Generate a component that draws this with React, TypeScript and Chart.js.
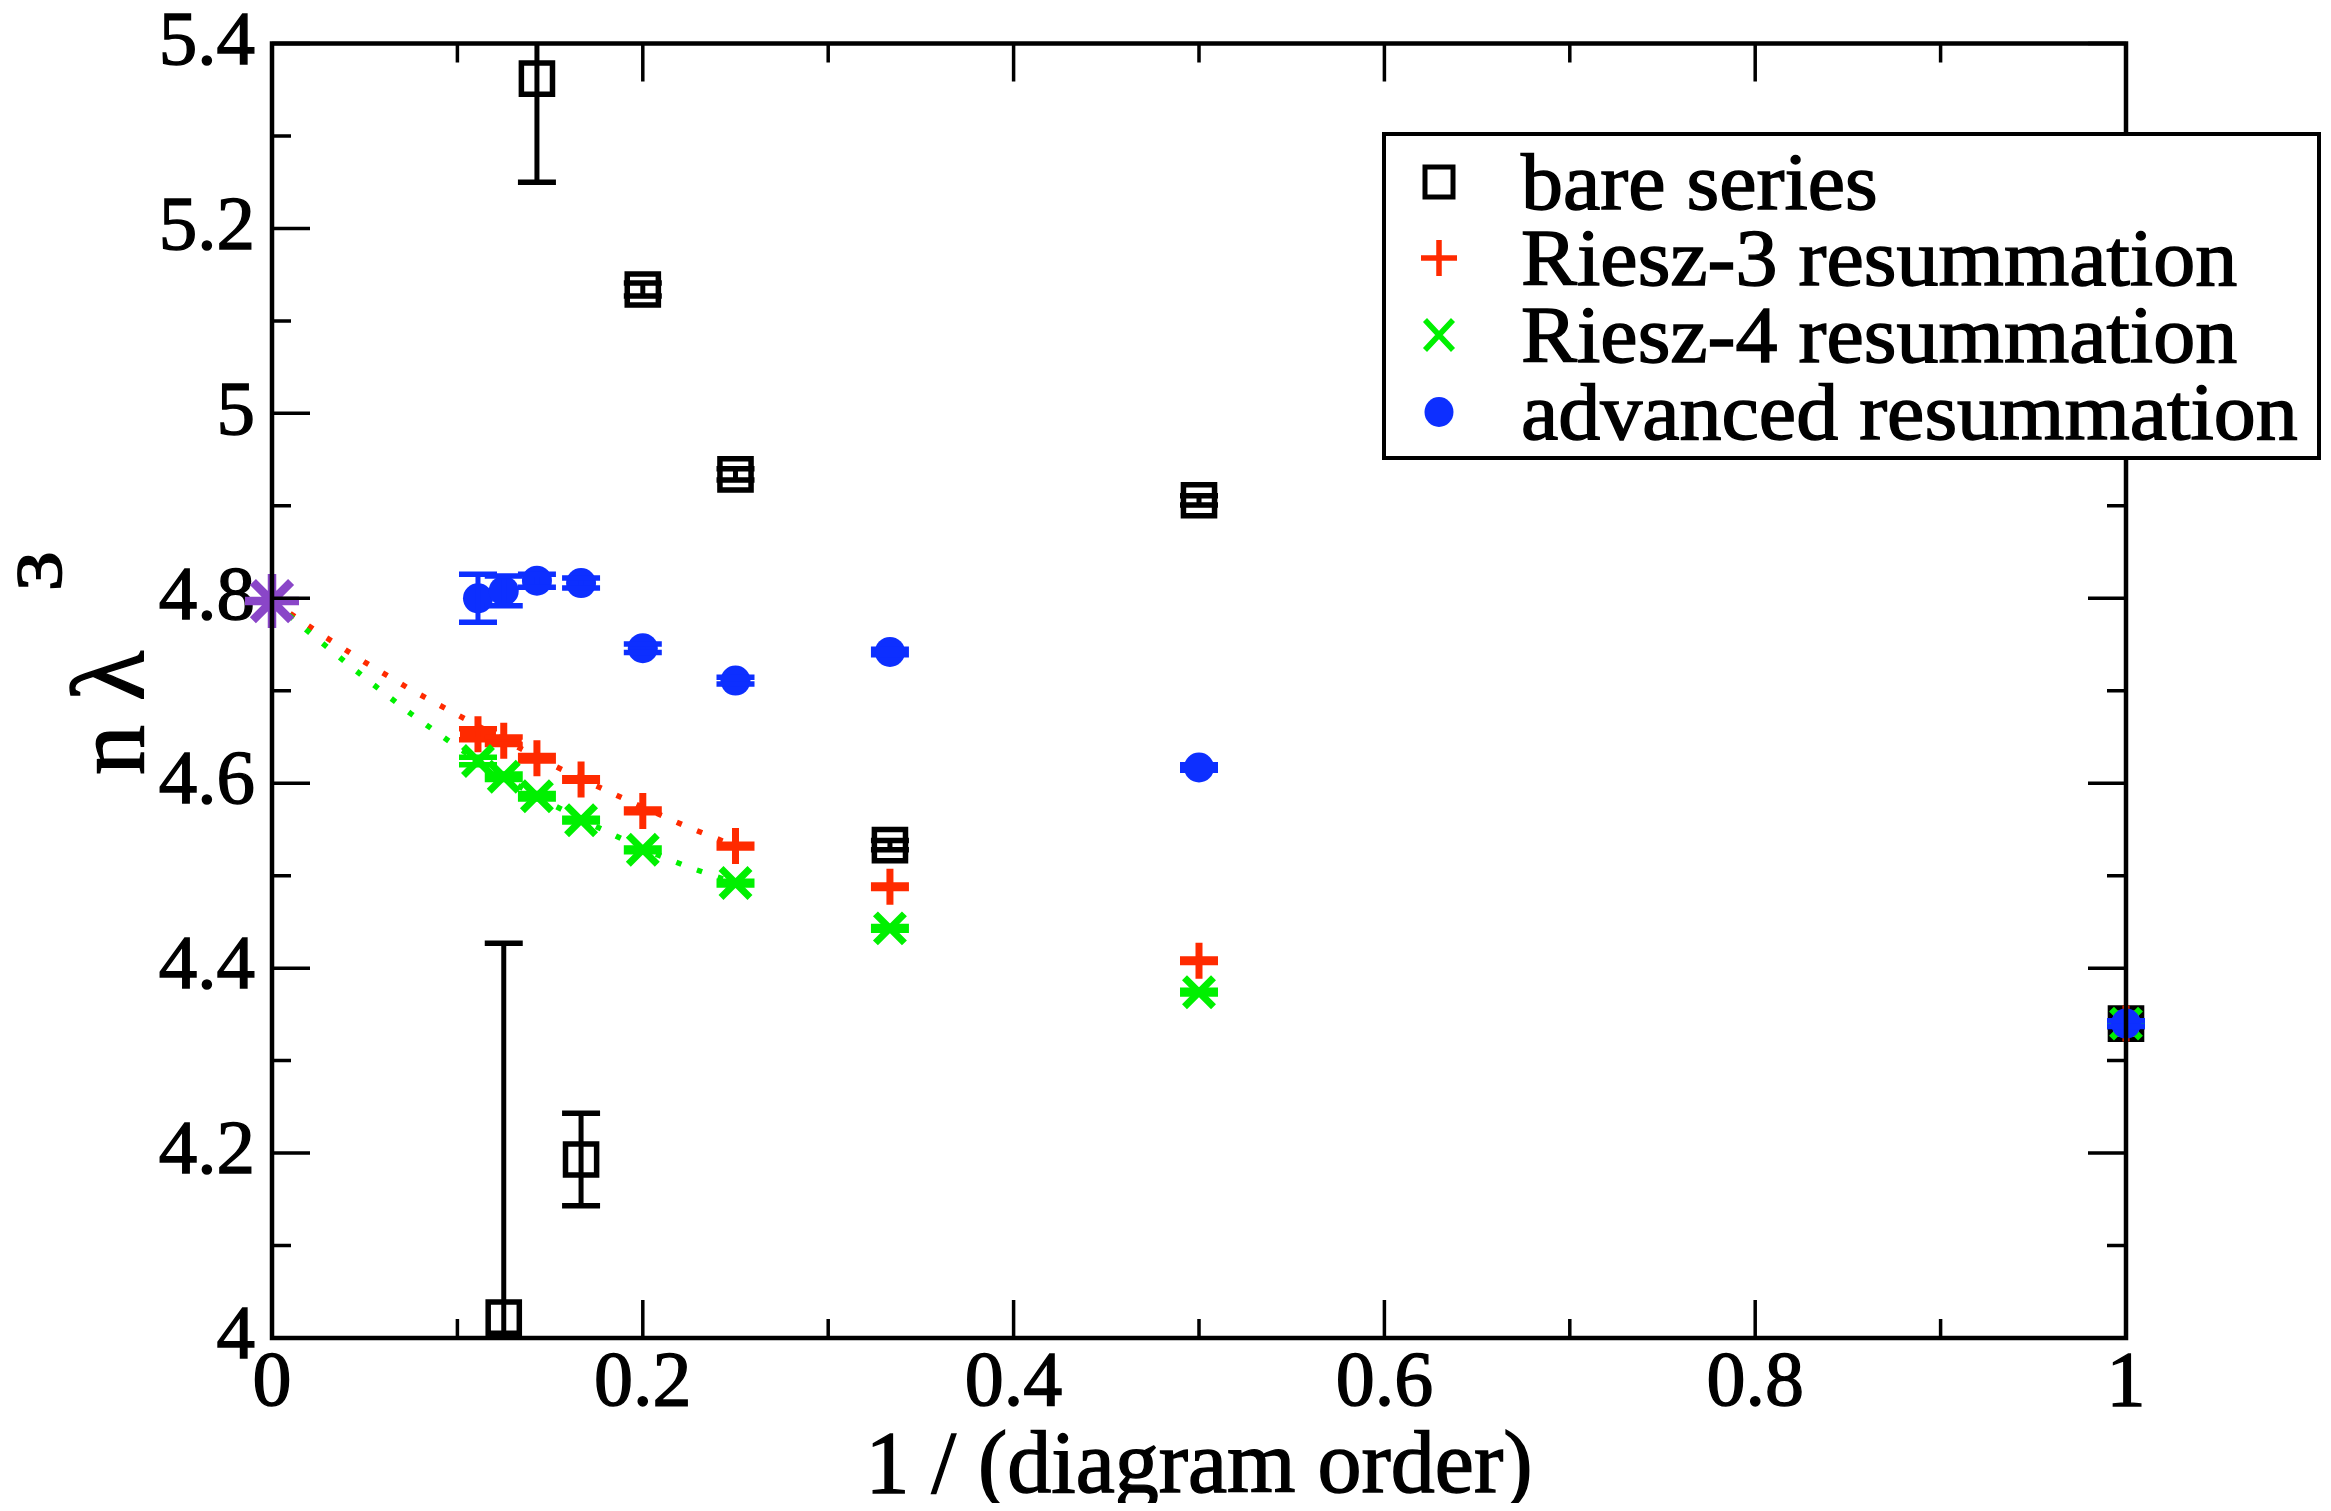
import React, { useEffect, useRef } from 'react';
import { Chart, registerables } from 'chart.js';

Chart.register(...registerables);

const FONT = '"Liberation Serif", "Times New Roman", serif';

// ---- data ----
const ORDER_X = [0.1111, 0.125, 0.1429, 0.1667, 0.2, 0.25, 0.3333, 0.5, 1];

const BARE_X = [0.125, 0.1429, 0.1667, 0.2, 0.25, 0.3333, 0.5, 1];
const BARE_Y = [4.022, 5.362, 4.193, 5.134, 4.934, 4.533, 4.906, 4.34];
const BARE_ERR = [0.405, 0.112, 0.05, 0.007, 0.006, 0.005, 0.005, 0.003];

const RIESZ3_Y = [4.653, 4.646, 4.627, 4.604, 4.57, 4.532, 4.488, 4.408, 4.34];
const RIESZ3_ERR = [0.006, 0.004, 0.003, 0.002, 0.002, 0.002, 0.002, 0.002, 0.002];

const RIESZ4_Y = [4.624, 4.607, 4.586, 4.56, 4.528, 4.492, 4.443, 4.374, 4.34];
const RIESZ4_ERR = [0.004, 0.003, 0.003, 0.002, 0.002, 0.002, 0.002, 0.002, 0.002];

const ADV_Y = [4.8, 4.808, 4.819, 4.8165, 4.746, 4.711, 4.742, 4.617, 4.34];
const ADV_ERR = [0.026, 0.016, 0.007, 0.0055, 0.0045, 0.0036, 0.003, 0.003, 0.003];

const EXTRAP_X = [0];
const EXTRAP_Y = [4.797];

const FIT_X = [0, 0.025, 0.05, 0.075, 0.1, 0.125, 0.15, 0.175, 0.2, 0.225, 0.25];
const FIT3_Y = [4.797, 4.763, 4.731, 4.701, 4.674, 4.647, 4.621, 4.597, 4.574, 4.552, 4.532];
const FIT4_Y = [4.797, 4.755, 4.714, 4.675, 4.639, 4.606, 4.578, 4.553, 4.529, 4.509, 4.492];

const X_MAJOR = [0, 0.2, 0.4, 0.6, 0.8, 1];
const X_MINOR = [0.1, 0.3, 0.5, 0.7, 0.9];
const Y_MAJOR = [4, 4.2, 4.4, 4.6, 4.8, 5, 5.2, 5.4];
const Y_MINOR = [4.1, 4.3, 4.5, 4.7, 4.9, 5.1, 5.3];

const LEGEND_LABELS = ['bare series', 'Riesz-3 resummation', 'Riesz-4 resummation', 'advanced resummation'];
const X_TITLE = '1 / (diagram order)';

const BLACK = '#000000';
const RED = '#ff2a00';
const GREEN = '#00f000';
const BLUE = '#0d2fff';
const PURPLE = '#8a46c8';

const pts = (xs: number[], ys: number[]) => xs.map((x, i) => ({ x, y: ys[i] }));

const boldText = (ctx: CanvasRenderingContext2D, t: string, x: number, y: number) => {
  ctx.fillText(t, x, y);
  ctx.strokeText(t, x, y);
};

const errorBarPlugin = {
  id: 'errorBars',
  afterDatasetDraw(chart: any, args: any) {
    const ds = chart.data.datasets[args.index];
    if (!ds.errors) return;
    const { ctx, chartArea, scales } = chart;
    ctx.save();
    ctx.beginPath();
    ctx.rect(chartArea.left - 40, chartArea.top, chartArea.right - chartArea.left + 80, chartArea.bottom - chartArea.top);
    ctx.clip();
    ctx.strokeStyle = ds.errColor || ds.borderColor;
    ctx.lineCap = 'butt';
    ds.data.forEach((p: any, i: number) => {
      const e = ds.errors[i];
      const px = scales.x.getPixelForValue(p.x);
      const yHi = scales.y.getPixelForValue(p.y + e);
      const yLo = scales.y.getPixelForValue(p.y - e);
      ctx.lineWidth = 5;
      ctx.beginPath();
      ctx.moveTo(px, yHi);
      ctx.lineTo(px, yLo);
      ctx.stroke();
      ctx.lineWidth = 5.5;
      ctx.beginPath();
      ctx.moveTo(px - 19, yHi);
      ctx.lineTo(px + 19, yHi);
      ctx.moveTo(px - 19, yLo);
      ctx.lineTo(px + 19, yLo);
      ctx.stroke();
    });
    ctx.restore();
  },
};

const framePlugin = {
  id: 'frameTicks',
  afterDatasetsDraw(chart: any) {
    const { ctx, chartArea: a, scales } = chart;
    ctx.save();
    ctx.strokeStyle = '#000';
    ctx.lineCap = 'butt';
    ctx.lineWidth = 3.5;
    const xt = (vals: number[], len: number) => {
      vals.forEach((v) => {
        const px = scales.x.getPixelForValue(v);
        ctx.beginPath();
        ctx.moveTo(px, a.bottom);
        ctx.lineTo(px, a.bottom - len);
        ctx.moveTo(px, a.top);
        ctx.lineTo(px, a.top + len);
        ctx.stroke();
      });
    };
    const yt = (vals: number[], len: number) => {
      vals.forEach((v) => {
        const py = scales.y.getPixelForValue(v);
        ctx.beginPath();
        ctx.moveTo(a.left, py);
        ctx.lineTo(a.left + len, py);
        ctx.moveTo(a.right, py);
        ctx.lineTo(a.right - len, py);
        ctx.stroke();
      });
    };
    xt(X_MAJOR, 38);
    xt(X_MINOR, 19);
    yt(Y_MAJOR, 38);
    yt(Y_MINOR, 19);
    ctx.lineWidth = 4.5;
    ctx.strokeRect(a.left, a.top, a.right - a.left, a.bottom - a.top);
    ctx.restore();
  },
};

const annotationPlugin = {
  id: 'titlesLegend',
  afterDraw(chart: any) {
    const { ctx, chartArea: a } = chart;
    ctx.save();
    ctx.fillStyle = '#000';
    ctx.strokeStyle = '#000';
    ctx.lineWidth = 1.4;
    // x title
    ctx.font = `88px ${FONT}`;
    ctx.textAlign = 'center';
    ctx.textBaseline = 'alphabetic';
    boldText(ctx, X_TITLE, (a.left + a.right) / 2, 1484);
    // y title (rotated)
    ctx.save();
    ctx.translate(135, 767);
    ctx.rotate(-Math.PI / 2);
    ctx.textAlign = 'left';
    ctx.font = `100px ${FONT}`;
    boldText(ctx, 'n', 0, 0);
    ctx.font = `104px ${FONT}`;
    boldText(ctx, '\u03bb', 74, 0);
    ctx.translate(184, -82);
    ctx.scale(1.2, 1);
    ctx.font = `66px ${FONT}`;
    ctx.lineWidth = 1.8;
    boldText(ctx, '3', 0, 0);
    ctx.restore();

    // legend
    const bx = 1376, by = 126, bw = 935, bh = 324;
    ctx.fillStyle = '#fff';
    ctx.fillRect(bx, by, bw, bh);
    ctx.strokeStyle = '#000';
    ctx.lineWidth = 4;
    ctx.strokeRect(bx, by, bw, bh);
    const rows = [174, 250, 327, 404];
    const sx = 1431;
    LEGEND_LABELS.forEach((label, i) => {
      const cy = rows[i];
      ctx.save();
      if (i === 0) {
        ctx.strokeStyle = BLACK;
        ctx.lineWidth = 5;
        ctx.strokeRect(sx - 14, cy - 15, 28, 30);
      } else if (i === 1) {
        ctx.strokeStyle = RED;
        ctx.lineWidth = 5.5;
        ctx.beginPath();
        ctx.moveTo(sx - 18, cy);
        ctx.lineTo(sx + 18, cy);
        ctx.moveTo(sx, cy - 18);
        ctx.lineTo(sx, cy + 18);
        ctx.stroke();
      } else if (i === 2) {
        ctx.strokeStyle = GREEN;
        ctx.lineWidth = 5.5;
        ctx.beginPath();
        ctx.moveTo(sx - 14, cy - 15);
        ctx.lineTo(sx + 14, cy + 15);
        ctx.moveTo(sx + 14, cy - 15);
        ctx.lineTo(sx - 14, cy + 15);
        ctx.stroke();
      } else {
        ctx.fillStyle = BLUE;
        ctx.beginPath();
        ctx.ellipse(sx, cy, 14.5, 15, 0, 0, Math.PI * 2);
        ctx.fill();
      }
      ctx.restore();
      ctx.save();
      ctx.fillStyle = '#000';
      ctx.strokeStyle = '#000';
      ctx.lineWidth = 1.4;
      ctx.font = `80px ${FONT}`;
      ctx.textAlign = 'left';
      ctx.textBaseline = 'alphabetic';
      ctx.translate(1513, cy + 27);
      ctx.scale(1.05, 1);
      boldText(ctx, label, 0, 0);
      ctx.restore();
    });
    ctx.restore();
  },
};

export default function App() {
  const ref = useRef<HTMLCanvasElement>(null);
  useEffect(() => {
    const zeroPad = (s: any) => {
      s.paddingTop = 0;
      s.paddingBottom = 0;
      s.paddingLeft = 0;
      s.paddingRight = 0;
    };
    const chart = new Chart(ref.current as HTMLCanvasElement, {
      type: 'scatter',
      data: {
        datasets: [
          {
            label: 'Riesz-3 fit',
            data: pts(FIT_X, FIT3_Y),
            showLine: true,
            pointRadius: 0,
            borderColor: RED,
            borderWidth: 5.5,
            borderDash: [5.5, 16.5],
            fill: false,
            order: 10,
          } as any,
          {
            label: 'Riesz-4 fit',
            data: pts(FIT_X, FIT4_Y),
            showLine: true,
            pointRadius: 0,
            borderColor: GREEN,
            borderWidth: 5.5,
            borderDash: [5.5, 16.5],
            fill: false,
            order: 9,
          },
          {
            label: LEGEND_LABELS[0],
            data: pts(BARE_X, BARE_Y),
            errors: BARE_ERR,
            errColor: BLACK,
            pointStyle: 'rect',
            pointRadius: 22,
            borderColor: BLACK,
            backgroundColor: 'rgba(0,0,0,0)',
            borderWidth: 5.5,
            clip: false,
            order: 5,
          },
          {
            label: LEGEND_LABELS[1],
            data: pts(ORDER_X, RIESZ3_Y),
            errors: RIESZ3_ERR,
            pointStyle: 'cross',
            pointRadius: 18,
            borderColor: RED,
            backgroundColor: RED,
            borderWidth: 7,
            clip: false,
            order: 4,
          },
          {
            label: LEGEND_LABELS[2],
            data: pts(ORDER_X, RIESZ4_Y),
            errors: RIESZ4_ERR,
            pointStyle: 'crossRot',
            pointRadius: 20.5,
            borderColor: GREEN,
            backgroundColor: GREEN,
            borderWidth: 7,
            clip: false,
            order: 3,
          },
          {
            label: LEGEND_LABELS[3],
            data: pts(ORDER_X, ADV_Y),
            errors: ADV_ERR,
            errColor: BLUE,
            pointStyle: 'circle',
            pointRadius: 15,
            borderColor: BLUE,
            backgroundColor: BLUE,
            borderWidth: 0,
            clip: false,
            order: 2,
          },
          {
            label: 'extrapolation',
            data: pts(EXTRAP_X, EXTRAP_Y),
            pointStyle: 'star',
            pointRadius: 27,
            borderColor: PURPLE,
            backgroundColor: PURPLE,
            borderWidth: 8.5,
            clip: false,
            order: 1,
          },
        ] as any,
      },
      options: {
        responsive: false,
        animation: false,
        events: [],
        layout: { padding: { top: 35, right: 197, left: 0, bottom: 0 } },
        plugins: { legend: { display: false }, tooltip: { enabled: false } },
        scales: {
          x: {
            type: 'linear',
            min: 0,
            max: 1,
            grid: { display: false, drawTicks: false },
            border: { display: false },
            ticks: {
              stepSize: 0.2,
              padding: 8,
              color: '#000',
              textStrokeColor: '#000',
              textStrokeWidth: 1.4,
              maxRotation: 0,
              font: { family: FONT, size: 78, lineHeight: 1 },
              callback: (v: any) => String(Math.round(Number(v) * 10) / 10),
            },
            afterFit: (s: any) => {
              s.height = 165;
              zeroPad(s);
            },
          },
          y: {
            type: 'linear',
            min: 4,
            max: 5.4,
            grid: { display: false, drawTicks: false },
            border: { display: false },
            ticks: {
              stepSize: 0.2,
              padding: 17,
              color: '#000',
              textStrokeColor: '#000',
              textStrokeWidth: 1.4,
              font: { family: FONT, size: 77, lineHeight: 1 },
              callback: (v: any) => String(Math.round(Number(v) * 10) / 10),
            },
            afterFit: (s: any) => {
              s.width = 264;
              zeroPad(s);
            },
          },
        },
      },
      plugins: [errorBarPlugin, framePlugin, annotationPlugin],
    });
    return () => chart.destroy();
  }, []);
  return (
    <div style={{ width: 2315, height: 1495 }}>
      <canvas ref={ref} width={2315} height={1495} style={{ display: 'block' }} />
    </div>
  );
}
